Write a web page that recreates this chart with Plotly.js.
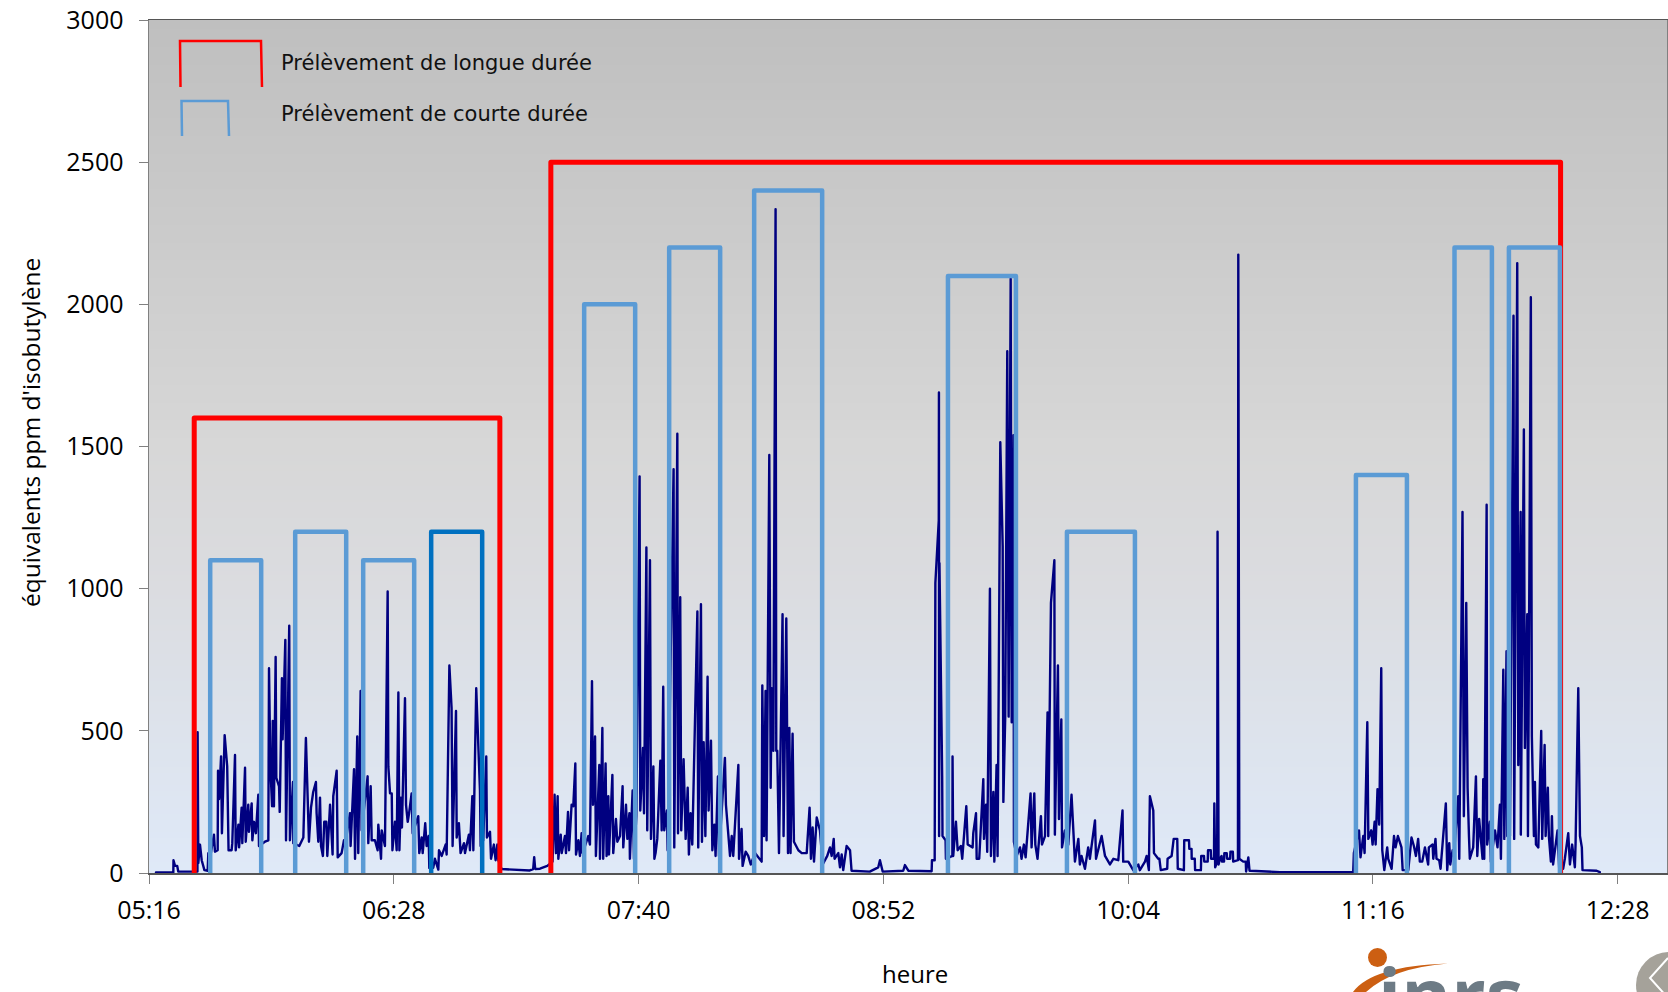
<!DOCTYPE html>
<html lang="fr">
<head>
<meta charset="utf-8">
<title>Prélèvements</title>
<script src="https://cdn.plot.ly/plotly-3.0.1.min.js"></script>
<style>
html,body{margin:0;padding:0;background:#fff;overflow:hidden}
#chart{width:1668px;height:992px}
.scatterlayer .js-line{stroke-linecap:round !important;stroke-linejoin:round !important}
</style>
</head>
<body>
<div id="chart"></div>
<script>
// Time in minutes after midnight, values in ppm equivalents of isobutylene
const tickMinutes = [316,388,460,532,604,676,748];
const tickLabels = ["05:16","06:28","07:40","08:52","10:04","11:16","12:28"];

const timesA = [318.05,323.15,323.2,323.65,324.3,324.6,328.55,330.25,330.3,330.5,331,331.5,332.3,333.25,333.45,334.2,335.1,335.4,336.2,336.3,336.6,337.2,337.45,338.25,339,339.4,340.3,340.5,341.3,341.5,342.3,342.5,343.25,343.45,344.25,344.45,345.2,345.4,346.2,346.4,346.9,347.45,348.15,348.35,350.1,351.1,351.3,351.7,352.2,352.4,352.75,353.25,353.45,354.25,354.45,355.1,355.3,356.1,356.3,357.25,357.45,358.35,358.45,360.2,361.4,362.15,363.05,363.65,364.3,365.1,365.3,365.8,366.3,366.6,367.15,367.55,368.15,368.45,369.25,370,370.2,371.2,371.5,372.65,373.35,373.65,375.1,375.3,376.3,376.6,377.25,377.55,378.25,378.55,380.3,380.5,381.2,381.5,382.45,383.25,383.45,384.25,384.45,385.4,386.2,386.4,386.9,387.4,387.6,388.35,388.85,389.35,389.65,390.1,390.4,391.3,391.6,392.1,392.5,393.25,393.55,395.2,395.5,396.2,396.5,397.25,397.65,398.25,398.45,399.6,400.1,401.1,401.3,402.1,403.25,403.55,404.35,405,405.3,406.3,406.5,407.15,407.65,408.65,408.95,410.1,410.4,411.1,411.4,412.25,413.35,413.55,414.3,415.2,415.4,416.3,416.6,417.45,417.95,418.45,418.75,419.7,428,429,429.3,429.6,431,433.15];
const valuesA = [2,2,45,25,25,5,5,5,495,35,100,45,10,8,70,70,135,75,80,360,260,410,140,485,375,80,80,105,415,80,170,90,230,105,370,110,240,145,245,115,180,140,275,95,110,115,720,375,235,535,235,760,335,305,215,685,470,820,115,870,115,320,105,95,125,475,110,230,285,320,210,110,265,95,60,180,180,60,240,65,270,360,55,70,115,95,210,95,365,50,480,70,640,150,340,105,305,115,115,80,170,50,150,95,990,375,280,280,80,180,80,635,80,265,160,615,240,180,210,280,140,200,70,125,70,175,95,130,18,18,50,12,80,60,100,65,730,580,95,570,125,175,70,105,70,135,80,270,80,650,290,95,115,410,125,145,50,100,45,100,45,14,9,14,56,14,15,25];

const timesB = [434.7,435.3,435.7,436.2,436.4,437.1,437.4,438.35,438.65,439.25,439.55,440.3,440.8,441.4,441.6,442.3,442.75,443.25,443.55,445.2,445.7,446.3,446.6,447.2,447.45,448.45,448.65,449.35,449.6,450.3,450.6,451.1,451.3,452.3,452.55,453.35,453.75,454.55,455.3,455.5,456.3,456.7,457.3,457.45,458.25,458.65,459.35,460.3,460.5,461.3,461.6,462.3,462.55,463.35,463.65,464.35,464.65,465,465.5,466.4,466.8,467.25,467.55,468.35,468.55,470.3,470.5,471.4,471.6,472.25,472.55,473.25,473.85,474.45,474.8,475.3,475.8,477.3,477.55,478.35,478.65,479.15,479.65,480.3,480.6,481.3,481.7,482.3,482.65,483.35,483.65,485.4,485.7,486.4,486.9,487.4,487.85,489.35,489.55,490.3,490.6,491.5,492.25,493,494.25,496.2,496.4,496.9,497.35,497.65,498.45,498.85,499.15,499.65,500.3,500.5,500.8,501.3,502.35,502.65,503.45,503.95,504.35,504.7,505.3,505.7,507,508,509.45,510.3,510.7,511.2,511.6,512.4,513.35,514.15,515.5,516.3,516.8,517.4,517.65,518.75,519.25,519.75,520.2,521.2,522.2,522.65,528,530.5];
const valuesB = [40,275,70,270,50,135,70,130,70,215,80,240,235,385,65,115,60,140,70,130,100,675,240,480,60,380,50,510,50,385,60,270,65,345,70,190,110,130,305,90,240,120,210,50,290,50,200,1395,220,440,210,1145,150,1100,120,375,50,70,120,395,150,655,150,220,80,1420,90,1545,140,970,150,400,120,300,65,210,100,920,90,945,110,460,130,690,220,465,80,170,60,340,60,405,240,130,60,130,60,380,50,155,25,75,60,30,70,40,660,130,640,115,1470,300,650,430,2335,430,430,70,910,130,895,70,510,70,490,110,80,70,70,230,50,160,40,195,150,30,60,90,60,120,50,70,20,65,10,95,80,8,5,20];

const timesC = [531,531.8,537.85,538.35,539.35,546.2,546.3,547.1,547.15,547.2,547.3,548.3,548.35,548.4,548.5,549.3,549.4,550.3,550.4,552.3,552.35,552.55,553.35,553.85,554.8,555.2,556.4,556.8,558.25,558.45,559.25,559.45,560.2,561.4,561.6,562.2,562.55,563.35,563.65,564.35,564.65,565.3,565.6,566.4,567.1,567.3,567.85,568.45,568.85,569.45,569.75,570.3,570.4,571.2,572.2,572.65,573.35,573.85,574.35,575.3,575.6,576.4,576.7,577.35,578.35,578.65,579.55,580.3,580.5,581.3,582.3,582.45,583.35,583.65,584.35,584.55,585.4,586.4,587.35,588.05,588.35,589.35,589.8,590.3,591.3,592.25,592.75,594.25,594.55,596.2,597.2,598.65,599.65,601.1,602.35,602.55,604.05,605.5,607,607.45,608.95,609.45,610.1,610.4,611.4,611.6,612.85,613.2,613.6,615.5,615.6,616.8,617.4,618.45,618.6,620.4,620.5,621.9,622,622.65,622.7,623.6,623.7,625.4,625.5,626.3,626.4,627.4,627.5,628.3,628.4,629.25,629.35,629.6,630.2,630.3,630.6,631,631.5,631.6,632.2,632.3,633,633.1,634,634.1,634.8,634.9,636.3,636.4,636.7,637.85,638.6,638.7,639.35,639.7,640,648.65];
const valuesC = [45,5,8,28,8,6,45,45,230,60,1020,1240,1690,130,1090,340,130,115,50,60,410,60,180,80,95,50,235,100,90,140,210,50,50,330,120,240,75,1000,60,285,40,380,60,1515,1150,250,550,1835,550,2090,530,1540,110,60,90,50,100,55,130,280,90,280,100,50,200,100,130,565,130,950,1100,135,730,190,540,90,150,100,275,130,40,120,30,60,15,90,50,185,50,130,60,30,50,45,220,40,40,10,30,10,40,60,10,270,220,70,50,50,10,15,50,60,120,120,15,10,115,115,85,85,50,50,10,10,60,60,40,40,80,80,50,50,245,20,40,1200,30,50,60,40,40,70,70,50,50,75,75,40,45,2175,50,40,40,5,55,8,8,3];

const timesD = [663.35,670.2,670.4,671.9,672.35,673.15,673.55,674.35,674.65,675.5,675.9,676.5,676.8,677.35,677.85,678.45,678.75,679.35,680.2,680.5,681.5,682.2,682.65,683.35,684.4,684.75,686.4,687.35,688.05,688.65,689.3,689.8,690.5,691.3,692.25,692.45,693.55,693.75,694.4,694.7,695.5,695.9,697.45,697.85,698.45,698.75,699.45,699.8,701.1,701.4,702.35,702.75,703.45,703.85,704.25,704.5,705.5,706.3,706.7,707.25,708.25,708.45,708.75,709.45,709.6,710.4,710.7,711.9,712.65,713.35,713.65,714.35,714.65,715.3,715.5,716.3,717.35,717.55,718.45,718.75,719.45,719.5,720.4,720.7,721.4,721.6,722.45,722.75,723.35,723.65,723.95,724.65,725.5,725.8,726.5,726.8,727.45,727.75,728.35,728.65,729,729.65,730.3,730.8,731.95,732.45,733.45,733.95,734.6,735.4,735.6,736.4,736.9,737.45,737.65,741.8,742.75];
const valuesD = [3,3,70,150,55,130,70,530,120,150,100,180,100,295,170,720,80,10,90,50,15,130,90,130,90,10,10,125,95,60,120,40,40,90,30,90,100,50,120,50,45,15,245,10,105,30,80,60,270,50,1270,200,950,300,130,50,90,340,60,190,50,330,50,1295,100,180,40,150,90,240,50,715,120,780,130,130,1960,120,2145,380,1270,135,1560,440,910,130,2025,480,130,320,100,90,500,120,450,130,300,130,40,200,30,100,150,15,15,50,140,30,100,20,100,650,130,90,10,8,3];

// Sampling periods: [start minute, end minute, level on the chart]
const longSamples = [[329.3,419.2,1600],[434.2,731.2,2500]];
const shortSamples = [[334,349,1100],[359,374,1200],[379,394,1100],[444,459,2000],[469,484,2200],[494,514,2400],[551,571,2100],[586,606,1200],[671,686,1400],[700,711,2200],[716,731,2200]];
const darkShortSamples = [[399,414,1200]];

const legendLong = "Prélèvement de longue durée";
const legendShort = "Prélèvement de courte durée";

const xRange = [316,762.5];
const yRange = [0,3000];

function bracket(s, color, width){
  return {x:[s[0],s[0],s[1],s[1]], y:[0,s[2],s[2],0], mode:'lines', type:'scatter',
    line:{color:color,width:width}, hoverinfo:'skip', showlegend:false, cliponaxis:false};
}

const W=1668,H=992,L=149,R=1,T=20,B=119;
const pw=W-L-R, ph=H-T-B;
const fx=p=>(p-L)/pw, fy=p=>(H-B-p)/ph;
function pth(pts){return pts.map((p,i)=>(i?'L':'M')+fx(p[0]).toFixed(5)+' '+fy(p[1]).toFixed(5)).join(' ');}

const traces = [
  {type:'heatmap', x:xRange, y:yRange, z:[[0,0],[1,1]], zsmooth:'best', showscale:false, hoverinfo:'skip',
   zmin:0,zmax:1,
   colorscale:[[0,'#DFE9F8'],[0.1667,'#DDE3EC'],[0.3333,'#DBDCE0'],[0.5,'#D7D7D7'],[1,'#BFBFBF']]},
  {type:'scatter', mode:'lines', x:[].concat(timesA,timesB,timesC,timesD), y:[].concat(valuesA,valuesB,valuesC,valuesD),
   line:{color:'#000080',width:2.4}, hoverinfo:'skip', showlegend:false, cliponaxis:false}
];
longSamples.forEach(s=>traces.push(bracket(s,'#FF0000',5)));
shortSamples.forEach(s=>traces.push(bracket(s,'#5B9BD5',4.5)));
darkShortSamples.forEach(s=>traces.push(bracket(s,'#0070C0',4.5)));

const shapes = [
  {type:'path',xref:'paper',yref:'paper',path:pth([[180.5,87],[180,41],[261,41],[262,87]]),line:{color:'#FF0000',width:2.5}},
  {type:'path',xref:'paper',yref:'paper',path:pth([[182,136],[181.5,101],[228,101],[229,136]]),line:{color:'#5B9BD5',width:2.5}},
  // logo
  {type:'circle',xref:'paper',yref:'paper',x0:fx(1368),x1:fx(1387),y0:fy(948),y1:fy(967),fillcolor:'#CC5F12',line:{width:0}},
  {type:'path',xref:'paper',yref:'paper',fillcolor:'#CC5F12',line:{width:0},
   path:'M'+fx(1353)+' '+fy(992)+' Q'+fx(1372)+' '+fy(966)+' '+fx(1448)+' '+fy(963.5)+' Q'+fx(1392)+' '+fy(968)+' '+fx(1366)+' '+fy(992)+' Z'},
  // navigation button
  {type:'circle',xref:'paper',yref:'paper',x0:fx(1636),x1:fx(1702),y0:fy(952),y1:fy(1018),fillcolor:'#A5A29A',line:{width:0}},
  {type:'path',xref:'paper',yref:'paper',path:pth([[1668,958],[1650,978],[1668,998]]),line:{color:'#FFFFFF',width:2}}
];

const annotations = [
  {xref:'paper',yref:'paper',x:fx(279),y:fy(63),text:legendLong,showarrow:false,xanchor:'left',yanchor:'middle',font:{family:'DejaVu Sans',size:21,color:'#111'}},
  {xref:'paper',yref:'paper',x:fx(279),y:fy(114),text:legendShort,showarrow:false,xanchor:'left',yanchor:'middle',font:{family:'DejaVu Sans',size:21,color:'#111'}},
  {xref:'paper',yref:'paper',x:fx(30),y:fy(433),text:"équivalents ppm d'isobutylène",textangle:-90,showarrow:false,xanchor:'center',yanchor:'middle',font:{family:'Open Sans',size:24.5,color:'#000'}},
  {xref:'paper',yref:'paper',x:fx(915),y:fy(974),text:'heure',showarrow:false,xanchor:'center',yanchor:'middle',font:{family:'Open Sans',size:24,color:'#000'}},
  {xref:'paper',yref:'paper',x:fx(1450),y:fy(993),text:'<b>inrs</b>',showarrow:false,xanchor:'center',yanchor:'middle',font:{family:'Open Sans',size:76,color:'#6D7B85'}}
];

const layout = {
  width:W,height:H,
  margin:{l:L,r:R,t:T,b:B,pad:0},
  paper_bgcolor:'#FFFFFF',plot_bgcolor:'#D7D7D7',
  showlegend:false,
  font:{family:'Open Sans',color:'#000'},
  xaxis:{range:xRange,type:'linear',tickmode:'array',tickvals:tickMinutes,ticktext:tickLabels,
    ticks:'outside',ticklen:9,tickcolor:'#808080',tickwidth:1,showgrid:false,zeroline:false,ticklabelstandoff:5,
    linecolor:'#555',linewidth:1.5,mirror:true,tickfont:{family:'Open Sans',size:25,color:'#000'},automargin:false},
  yaxis:{range:yRange,tickmode:'array',tickvals:[0,500,1000,1500,2000,2500,3000],
    ticks:'outside',ticklen:9,tickcolor:'#808080',tickwidth:1,showgrid:false,zeroline:false,ticklabelstandoff:10,
    linecolor:'#808080',linewidth:1.5,mirror:true,tickfont:{family:'Open Sans',size:25,color:'#000'},automargin:false},
  shapes:shapes,annotations:annotations
};
Plotly.newPlot('chart',traces,layout,{displayModeBar:false,staticPlot:true});
</script>
</body>
</html>
